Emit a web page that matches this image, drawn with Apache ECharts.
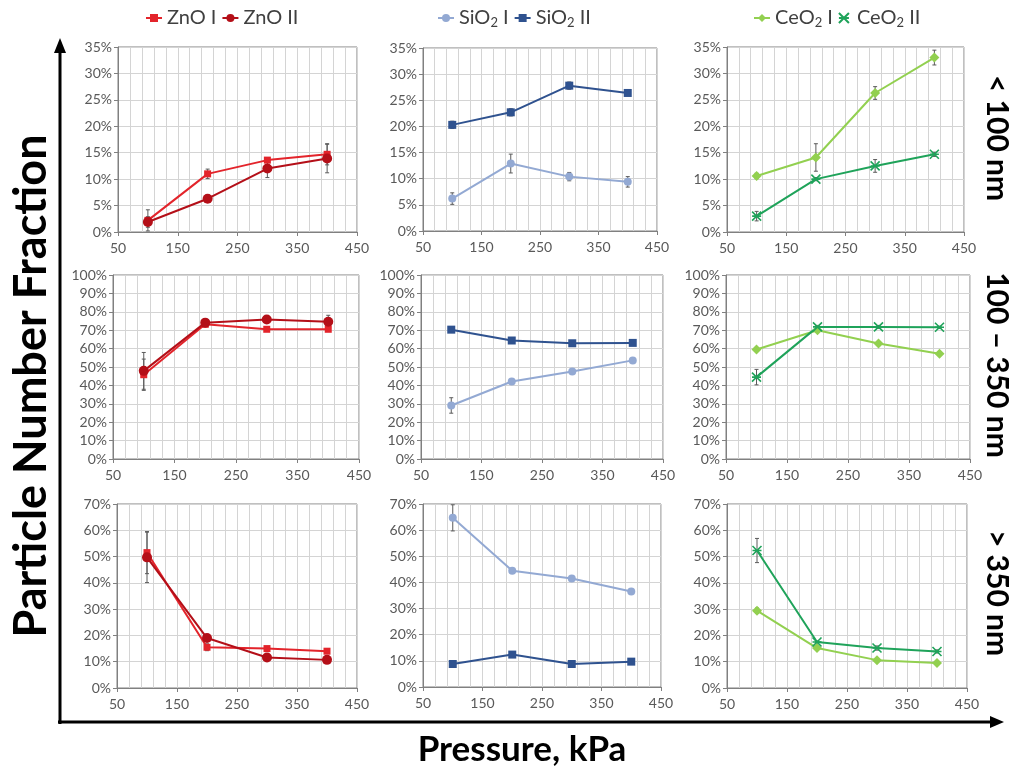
<!DOCTYPE html>
<html>
<head>
<meta charset="utf-8">
<script src="https://cdn.jsdelivr.net/npm/echarts@6/dist/echarts.min.js"></script>
<style>
  html, body { margin: 0; padding: 0; background: #fff; }
  #chart { width: 1016px; height: 770px; }
</style>
</head>
<body>
<div id="chart"></div>
<script>
// Pressure levels (kPa)
const pressure = [100, 200, 300, 400];

// Particle number fraction (%), size class < 100 nm
const zno1Fine = [2.2, 11.0, 13.6, 14.7];
const zno1FineErr = [2.0, 0.9, 0.4, 2.0];
const zno2Fine = [1.9, 6.3, 12.0, 13.9];
const zno2FineErr = [1.0, 0.4, 1.7, 2.7];
const sio1Fine = [6.2, 12.9, 10.4, 9.4];
const sio1FineErr = [1.1, 1.8, 0.8, 1.0];
const sio2Fine = [20.3, 22.7, 27.8, 26.4];
const sio2FineErr = [0.7, 0.7, 0.7, 0.3];
const ceo1Fine = [10.6, 14.1, 26.3, 33.0];
const ceo1FineErr = [0.5, 2.6, 1.2, 1.4];
const ceo2Fine = [3.0, 10.0, 12.5, 14.7];
const ceo2FineErr = [0.9, 0.3, 1.2, 0.4];

// size class 100 – 350 nm
const zno1Mid = [45.8, 73.2, 70.5, 70.5];
const zno1MidErr = [8.5, 1.0, 0.8, 0.8];
const zno2Mid = [47.9, 74.1, 75.8, 74.6];
const zno2MidErr = [10.0, 0.8, 1.2, 3.5];
const sio1Mid = [29.1, 42.1, 47.6, 53.6];
const sio1MidErr = [4.2, 0.8, 0.8, 0.8];
const sio2Mid = [70.3, 64.4, 62.9, 63.1];
const sio2MidErr = [0.8, 0.8, 0.8, 0.8];
const ceo1Mid = [59.5, 70.0, 62.8, 57.2];
const ceo1MidErr = [0.8, 1.0, 0.8, 0.8];
const ceo2Mid = [44.5, 71.8, 71.8, 71.6];
const ceo2MidErr = [4.2, 0.8, 0.8, 0.6];

// size class > 350 nm
const zno1Coarse = [51.5, 15.5, 15.0, 14.0];
const zno1CoarseErr = [8.0, 1.3, 0.8, 0.4];
const zno2Coarse = [49.7, 19.0, 11.6, 10.7];
const zno2CoarseErr = [9.6, 0.6, 0.6, 0.6];
const sio1Coarse = [64.7, 44.5, 41.5, 36.5];
const sio1CoarseErr = [5.0, 0.6, 0.6, 0.6];
const sio2Coarse = [8.8, 12.4, 8.8, 9.7];
const sio2CoarseErr = [0.4, 0.4, 0.4, 0.4];
const ceo1Coarse = [29.4, 15.2, 10.6, 9.5];
const ceo1CoarseErr = [1.0, 0.8, 0.5, 0.6];
const ceo2Coarse = [52.3, 17.5, 15.2, 13.9];
const ceo2CoarseErr = [4.6, 0.4, 0.8, 0.6];

// Axis ranges per size-class row
const yMaxByRow = [35, 100, 70];
const yStepByRow = [5, 10, 10];
const xMin = 50, xMax = 450, xStep = 100;

const sizeClassLabels = ['< 100 nm', '100 – 350 nm', '> 350 nm'];

const FONT = 'Lato, "Open Sans", sans-serif';
const STAR = 'path://M0,0L10,10M10,0L0,10M0,5L10,5';

const seriesStyle = {
  'ZnO I':  { color: '#e3242b', symbol: 'rect', size: 7 },
  'ZnO II': { color: '#b40f18', symbol: 'circle', size: 10 },
  'SiO2 I': { color: '#93a9d3', symbol: 'circle', size: 8 },
  'SiO2 II':{ color: '#2f528f', symbol: 'rect', size: 8 },
  'CeO2 I': { color: '#92d050', symbol: 'diamond', size: 10 },
  'CeO2 II':{ color: '#1fa35a', symbol: STAR, size: 9 }
};

// Panel layout: rows = size class, columns = material
const gridBoxes = [
  [[118, 47, 239, 185], [423, 48, 234, 183], [727, 47, 237, 185]],
  [[113, 275, 246, 184], [421, 275, 242, 184], [726, 275, 244, 184]],
  [[117, 504, 240, 184], [423, 504, 238, 183], [727, 504, 240, 184]]
];

const panels = [
  [ [['ZnO I', zno1Fine, zno1FineErr], ['ZnO II', zno2Fine, zno2FineErr]],
    [['SiO2 I', sio1Fine, sio1FineErr], ['SiO2 II', sio2Fine, sio2FineErr]],
    [['CeO2 I', ceo1Fine, ceo1FineErr], ['CeO2 II', ceo2Fine, ceo2FineErr]] ],
  [ [['ZnO I', zno1Mid, zno1MidErr], ['ZnO II', zno2Mid, zno2MidErr]],
    [['SiO2 I', sio1Mid, sio1MidErr], ['SiO2 II', sio2Mid, sio2MidErr]],
    [['CeO2 I', ceo1Mid, ceo1MidErr], ['CeO2 II', ceo2Mid, ceo2MidErr]] ],
  [ [['ZnO I', zno1Coarse, zno1CoarseErr], ['ZnO II', zno2Coarse, zno2CoarseErr]],
    [['SiO2 I', sio1Coarse, sio1CoarseErr], ['SiO2 II', sio2Coarse, sio2CoarseErr]],
    [['CeO2 I', ceo1Coarse, ceo1CoarseErr], ['CeO2 II', ceo2Coarse, ceo2CoarseErr]] ]
];

const grids = [], xAxes = [], yAxes = [], series = [];
let idx = 0;
for (let r = 0; r < 3; r++) {
  for (let c = 0; c < 3; c++) {
    const [l, t, w, h] = gridBoxes[r][c];
    grids.push({
      left: l, top: t, width: w, height: h,
      show: true, borderColor: '#808080', borderWidth: 1,
      containLabel: false, outerBoundsMode: 'none'
    });
    xAxes.push({
      type: 'value', gridIndex: idx, min: xMin, max: xMax, interval: xStep,
      axisLine: { show: true, lineStyle: { color: '#808080' } },
      axisTick: { show: true, length: 4, lineStyle: { color: '#808080' } },
      minorTick: { show: false, splitNumber: 5 },
      splitLine: { show: true, lineStyle: { color: '#d4d4d4' } },
      minorSplitLine: { show: true, lineStyle: { color: '#d4d4d4' } },
      axisLabel: { color: '#595959', fontSize: 14, fontFamily: FONT, margin: 9 }
    });
    yAxes.push({
      type: 'value', gridIndex: idx, min: 0, max: yMaxByRow[r], interval: yStepByRow[r],
      axisLine: { show: true, lineStyle: { color: '#808080' } },
      axisTick: { show: true, length: 4, lineStyle: { color: '#808080' } },
      splitLine: { show: true, lineStyle: { color: '#d4d4d4' } },
      axisLabel: { color: '#595959', fontSize: 14, fontFamily: FONT, margin: 6,
                   formatter: '{value}%' }
    });
    panels[r][c].forEach(([name, values, errs]) => {
      const st = seriesStyle[name];
      const isStar = st.symbol === STAR;
      series.push({
        type: 'custom', name: name + ' err', xAxisIndex: idx, yAxisIndex: idx,
        silent: true, z: 1,
        data: pressure.map((p, i) => [p, values[i] - errs[i], values[i] + errs[i]]),
        renderItem: function (params, api) {
          const lo = api.coord([api.value(0), api.value(1)]);
          const hi = api.coord([api.value(0), api.value(2)]);
          const s = { stroke: '#5a5a5a', lineWidth: 1 };
          return { type: 'group', children: [
            { type: 'line', shape: { x1: lo[0], y1: lo[1], x2: hi[0], y2: hi[1] }, style: s },
            { type: 'line', shape: { x1: lo[0] - 2, y1: lo[1], x2: lo[0] + 2, y2: lo[1] }, style: s },
            { type: 'line', shape: { x1: hi[0] - 2, y1: hi[1], x2: hi[0] + 2, y2: hi[1] }, style: s }
          ]};
        }
      });
      series.push({
        type: 'line', name: name, xAxisIndex: idx, yAxisIndex: idx, z: 3,
        data: pressure.map((p, i) => [p, values[i]]),
        symbol: st.symbol, symbolSize: st.size, showSymbol: true,
        lineStyle: { color: st.color, width: 2 },
        itemStyle: isStar
          ? { color: st.color, borderColor: st.color, borderWidth: 1.6 }
          : { color: st.color, borderWidth: 0 },
        emphasis: { disabled: true },
        animation: false
      });
    });
    idx++;
  }
}

function legendFormatter(name) {
  const m = name.match(/^(SiO|CeO)2 (I+)$/);
  if (m) return '{t|' + m[1] + '}{s|2}{t| ' + m[2] + '}';
  return '{t|' + name + '}';
}
const legendText = {
  color: '#404040', fontFamily: FONT, fontSize: 20,
  rich: {
    t: { fontSize: 20, color: '#404040', fontFamily: FONT },
    s: { fontSize: 13, color: '#404040', fontFamily: FONT, verticalAlign: 'bottom', padding: [9, 0, 0, 0] }
  }
};
function makeLegend(names, left) {
  return {
    data: names.map(n => ({ name: n, icon: seriesStyle[n].symbol === STAR ? STAR : undefined })),
    left: left, top: 3, itemGap: 5, itemWidth: 16, itemHeight: 10,
    formatter: legendFormatter, textStyle: legendText, selectedMode: false
  };
}

// Overall axes with arrow heads and titles
const graphics = [
  { type: 'line', shape: { x1: 60, y1: 724, x2: 60, y2: 50 }, style: { stroke: '#000', lineWidth: 3 } },
  { type: 'polygon', shape: { points: [[60, 38], [54, 53], [66, 53]] }, style: { fill: '#000' } },
  { type: 'line', shape: { x1: 58, y1: 722, x2: 992, y2: 722 }, style: { stroke: '#000', lineWidth: 3 } },
  { type: 'polygon', shape: { points: [[1004, 722], [990, 716], [990, 728]] }, style: { fill: '#000' } },
  { type: 'text', x: 31, y: 386, rotation: Math.PI / 2,
    style: { text: 'Particle Number Fraction', fill: '#000', font: 'bold 45px ' + FONT,
             align: 'center', verticalAlign: 'middle' } },
  { type: 'text', x: 522, y: 750,
    style: { text: 'Pressure, kPa', fill: '#000', font: 'bold 35px ' + FONT,
             align: 'center', verticalAlign: 'middle' } }
];
const rowCenters = [138, 365, 593];
sizeClassLabels.forEach((txt, i) => {
  graphics.push({ type: 'text', x: 997, y: rowCenters[i], rotation: -Math.PI / 2,
    style: { text: txt, fill: '#000', font: 'bold 30px ' + FONT, align: 'center', verticalAlign: 'middle' } });
});

const chart = echarts.init(document.getElementById('chart'), null, { renderer: 'canvas' });
chart.setOption({
  animation: false,
  backgroundColor: '#ffffff',
  textStyle: { fontFamily: FONT },
  legend: [
    makeLegend(['ZnO I', 'ZnO II'], 140),
    makeLegend(['SiO2 I', 'SiO2 II'], 432),
    makeLegend(['CeO2 I', 'CeO2 II'], 748)
  ],
  grid: grids, xAxis: xAxes, yAxis: yAxes, series: series,
  graphic: graphics
});
</script>
</body>
</html>
